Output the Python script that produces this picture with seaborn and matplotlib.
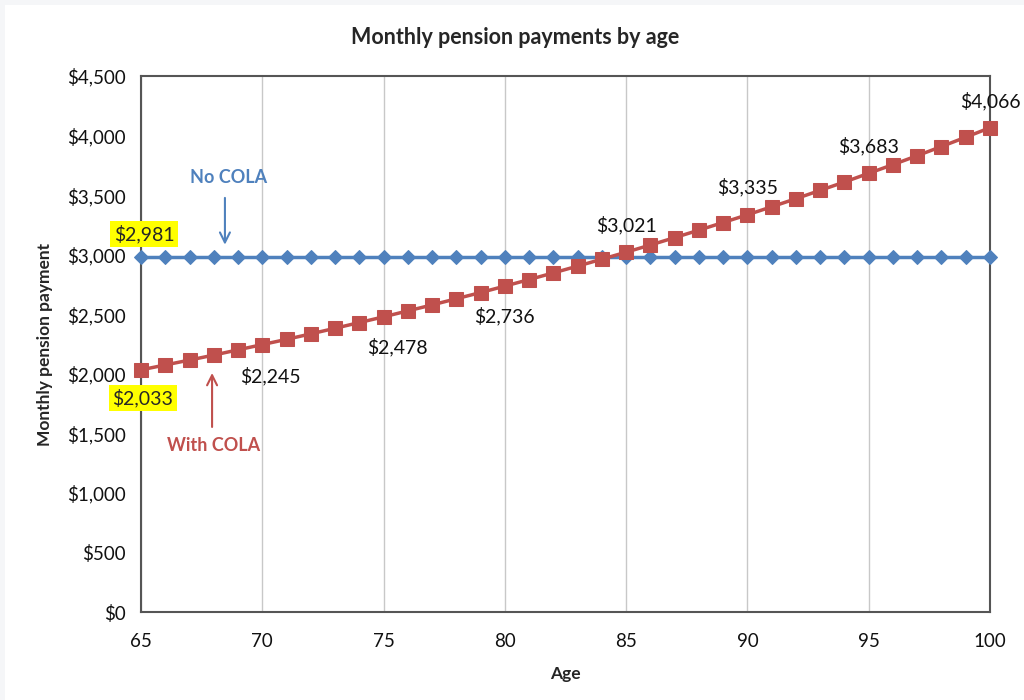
import matplotlib
matplotlib.use("Agg")
import matplotlib.pyplot as plt
import seaborn as sns
import pandas as pd
from matplotlib.patches import Rectangle
from matplotlib.ticker import FuncFormatter

# --- data ---
ages = list(range(65, 101))
no_cola = [2981] * 36
with_cola = [2033, 2074, 2115, 2157, 2201, 2245, 2289, 2335, 2382, 2430,
             2478, 2528, 2578, 2630, 2682, 2736, 2791, 2847, 2904, 2962,
             3021, 3081, 3143, 3206, 3270, 3335, 3402, 3470, 3540, 3610,
             3683, 3756, 3831, 3908, 3986, 4066]
labelled_ages = [70, 75, 80, 85, 90, 95, 100]
# label offsets in pixels (dx, dy) relative to the point
label_offsets = [(8, -31), (14, -30), (0, -30), (0, 27), (0, 28), (0, 27), (0, 27)]

BLUE = "#4f81bd"
RED = "#c0504d"

df = pd.DataFrame({"Age": ages, "No COLA": no_cola, "With COLA": with_cola})

sns.set_style("white")
plt.rcParams["font.family"] = ["Lato", "DejaVu Sans"]

fig = plt.figure(figsize=(10.24, 7), dpi=100, facecolor="#f5f6f8")
fig.patches.append(Rectangle((5 / 1024, 0), 1, 1 - 5 / 700, transform=fig.transFigure,
                             facecolor="white", edgecolor="none", zorder=-10))
ax = fig.add_axes([141 / 1024, 88 / 700, 849 / 1024, 536 / 700])
ax.set_facecolor("white")

sns.lineplot(data=df, x="Age", y="No COLA", ax=ax, color=BLUE, lw=2.5,
             marker="D", markersize=7.5, markeredgecolor=BLUE, zorder=3, clip_on=False)
sns.lineplot(data=df, x="Age", y="With COLA", ax=ax, color=RED, lw=2.5,
             marker="s", markersize=10, markeredgecolor=RED, zorder=4, clip_on=False)

ax.set_xlim(65, 100)
ax.set_ylim(0, 4500)
ax.set_xticks(range(65, 101, 5))
ax.set_yticks(range(0, 4501, 500))
ax.yaxis.set_major_formatter(FuncFormatter(lambda v, p: f"${v:,.0f}"))
ax.xaxis.grid(True, color="#c8c8c8", lw=1)
ax.yaxis.grid(False)
for s in ax.spines.values():
    s.set_color("#555555")
    s.set_linewidth(1.5)
ax.tick_params(axis="both", direction="out", length=5, width=1, color="#555555",
               labelsize=13.5, labelcolor="#111111", pad=6)
ax.tick_params(axis="x", pad=10)

ax.set_xlabel("Age", fontsize=12.5, fontweight="bold", labelpad=12)
ax.set_ylabel("Monthly pension payment", fontsize=12.5, fontweight="bold", labelpad=10)
fig.text(515 / 1024, 1 - 37 / 700, "Monthly pension payments by age", ha="center",
         va="center", fontsize=15.5, fontweight="bold")

# data labels on the COLA series
for age, (dx, dy) in zip(labelled_ages, label_offsets):
    val = with_cola[ages.index(age)]
    ax.annotate(f"${val:,}", xy=(age, val), xytext=(dx, dy), textcoords="offset pixels",
                ha="center", va="center", fontsize=14, color="#111111", zorder=6)

# highlighted start values
box = dict(boxstyle="square,pad=0.2", facecolor="#ffff00", edgecolor="none")
ax.annotate(f"${no_cola[0]:,}", xy=(65, no_cola[0]), xytext=(3, 23), textcoords="offset pixels",
            ha="center", va="center", fontsize=14, bbox=box, zorder=7, annotation_clip=False)
ax.annotate(f"${with_cola[0]:,}", xy=(65, with_cola[0]), xytext=(2, -28), textcoords="offset pixels",
            ha="center", va="center", fontsize=14, bbox=box, zorder=7, annotation_clip=False)

# series call-outs with arrows
ax.annotate("", xy=(68.46, 3060), xytext=(68.46, 3500),
            arrowprops=dict(arrowstyle="->", color=BLUE, lw=1.5, mutation_scale=18))
ax.text(68.6, 3650, "No COLA", color=BLUE, fontsize=13, fontweight="bold", ha="center", va="center")
ax.annotate("", xy=(67.93, 2030), xytext=(67.93, 1530),
            arrowprops=dict(arrowstyle="->", color=RED, lw=1.5, mutation_scale=18))
ax.text(68.0, 1394, "With COLA", color=RED, fontsize=13, fontweight="bold", ha="center", va="center")

fig.savefig("out.png", dpi=100, facecolor=fig.get_facecolor())
